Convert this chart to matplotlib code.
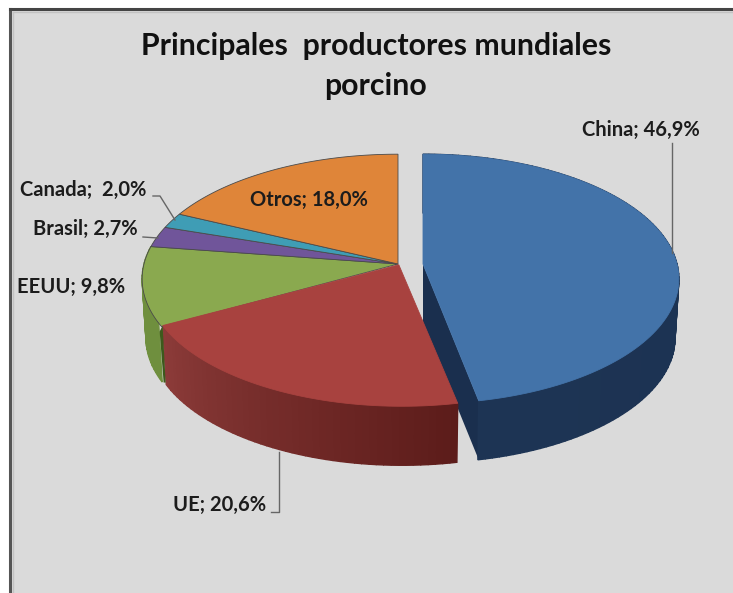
#!/usr/bin/env python3
"""Principales productores mundiales - porcino (pie 3D dibujado a mano)"""

import numpy as np
import matplotlib
matplotlib.use('Agg')
import matplotlib.pyplot as plt
from matplotlib.patches import Polygon, Rectangle
from matplotlib.colors import to_rgb

# datos, en el orden del grafico (sentido horario desde arriba)
names = ['China', 'UE', 'EEUU', 'Brasil', 'Canada', 'Otros']
values = [46.9, 20.6, 9.8, 2.7, 2.0, 18.0]

title_text = 'Principales  productores mundiales\nporcino'
colors = ['#4373a9', '#a8423f', '#8aa94f', '#70559a', '#3f9db5', '#df8539']
side_left = ['#1b3150', '#8c3b39', '#6f8f3e', '#5a4480', '#2f7f92', '#b56a2c']
side_right = ['#1d3454', '#5c1c1a', '#6f8f3e', '#5a4480', '#2f7f92', '#b56a2c']

plt.rcParams['font.family'] = ['Lato', 'DejaVu Sans']

# geometria en pixeles
APEX_X, APEX_Y = 398, 264
RX, RY = 254, 123
PERSP = 0.12
DEPTH = 59
OFFSETS = [(25, 0), (4, 2.5), (0, 0), (0, 0), (0, 0), (0, 0)]


def rim(theta, dx=0, dy=0, low=False):
    """Punto del borde; theta en radianes, horario desde arriba."""
    w = 1 + PERSP * np.cos(theta)
    sx = 0.985 if low else 1.0
    x = APEX_X + dx + sx * RX * np.sin(theta) / w
    y = APEX_Y + dy - RY * np.cos(theta) / w + (DEPTH if low else 0)
    return x, y


fig = plt.figure(figsize=(7.33, 5.93), dpi=100)
ax = fig.add_axes([0, 0, 1, 1])
ax.set_xlim(0, 733)
ax.set_ylim(593, 0)
ax.axis('off')

# fondo y marco
ax.add_patch(Rectangle((10, 9), 723, 584, fc='#dadada', ec='none', zorder=0))
ax.plot([10, 10], [593, 9], color='#555555', lw=2.2, zorder=1)
ax.plot([10, 733], [9, 9], color='#444444', lw=2.2, zorder=1)
ax.plot([13, 13], [593, 12], color='#c2c2c2', lw=1, zorder=1)
ax.plot([13, 733], [12, 12], color='#c2c2c2', lw=1, zorder=1)

fracs = np.array(values) / sum(values)
edges = np.concatenate([[0], np.cumsum(fracs)]) * 2 * np.pi

# cara del corte de China (queda detras de UE)
dx, dy = OFFSETS[0]
x1, y1 = rim(edges[1], dx, dy)
ax.add_patch(Polygon([(APEX_X + dx, APEX_Y), (x1, y1), (x1, y1 + DEPTH),
                      (APEX_X + dx, APEX_Y + DEPTH)],
                     fc='#1a2f4e', ec='none', zorder=2))

# cara del corte de UE junto a EEUU
dx, dy = OFFSETS[1]
x2, y2 = rim(edges[2], dx, dy)
ax.add_patch(Polygon([(x2, y2), (x2 - 3, y2 + 6), (x2 + 1, y2 + DEPTH - 2),
                      (x2 + 3, y2 + DEPTH - 2)],
                     fc='#3d5a1c', ec='none', zorder=4))

# laterales: tiras verticales para el degradado
for i in range(3):
    dx, dy = OFFSETS[i]
    t0 = max(edges[i], 0)
    t1 = edges[i + 1]
    n = int((t1 - t0) / np.radians(1.5)) + 1
    tt = np.linspace(t0, t1, n + 1)
    c0 = np.array(to_rgb(side_left[i]))
    c1 = np.array(to_rgb(side_right[i]))
    for k in range(n):
        a, b = tt[k], tt[k + 1]
        seg = np.linspace(a, b, 4)
        up = [rim(t, dx, dy) for t in seg]
        lo = [rim(t, dx, dy, low=True) for t in seg[::-1]]
        s = k / max(n - 1, 1)
        if i == 1:
            s = 1 - s
        col = c0 + (c1 - c0) * s
        ax.add_patch(Polygon(up + lo, fc=col, ec=col, lw=1.0, zorder=3))

# caras superiores
for i in range(len(values)):
    dx, dy = OFFSETS[i]
    t_ini = edges[i] - 0.03 if i == 2 else edges[i]  # EEUU sigue bajo UE
    tt = np.linspace(t_ini, edges[i + 1], 120)
    pts = [(APEX_X + 0.2 * dx if i == 1 else APEX_X + dx, APEX_Y + 0.3 * dy)]
    pts += [rim(t, dx, dy) for t in tt]
    ec = '#4a4a4a' if i >= 2 else colors[i]
    z = 5.5 if i == 1 else 5
    ax.add_patch(Polygon(pts, fc=colors[i], ec=ec, lw=0.6, zorder=z))

# etiquetas
labels = [f'{n}; {v:.1f}%'.replace('.', ',') for n, v in zip(names, values)]
labels[4] = labels[4].replace('; ', ';  ')
label_pos = [(640.5, 130), (220, 505), (71, 287), (85, 229), (83, 190), (309, 200)]
for lab, (x, y) in zip(labels, label_pos):
    ax.text(x, y, lab, ha='center', va='center', fontsize=14.5, fontweight='bold',
            color='#1c1c1c', zorder=7)

# lineas guia
leaders = [([672, 672], [143, 253]),
           ([279, 279, 271], [452, 512, 512]),
           ([143, 158], [237, 238]),
           ([153, 160, 175], [196, 196, 220])]
for xs, ys in leaders:
    ax.plot(xs, ys, color='#666666', lw=1, zorder=6)

ax.text(376, 66, title_text, ha='center', va='center', fontsize=21.8,
        fontweight='bold', color='#111111', linespacing=1.48, zorder=7)

fig.savefig('out.png', dpi=100)
